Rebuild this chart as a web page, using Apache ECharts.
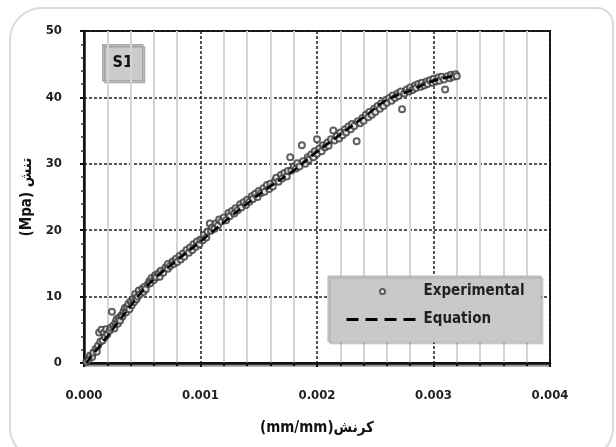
<!DOCTYPE html>
<html>
<head>
<meta charset="utf-8">
<script src="https://cdn.jsdelivr.net/npm/echarts@6/dist/echarts.min.js"></script>
<style>
  html, body { margin: 0; padding: 0; background: #fff; }
  #chart { width: 616px; height: 447px; }
</style>
</head>
<body>
<div id="chart"></div>
<script>
// equation curve (strain mm/mm, stress MPa)
const eqStrain = [0.00002, 0.0001, 0.0002, 0.0003, 0.0004, 0.0005, 0.0006, 0.0008, 0.0010, 0.0012, 0.0014, 0.0016, 0.0018, 0.0020, 0.0022, 0.0024, 0.0026, 0.0028, 0.0030, 0.0032];
const eqStress = [0, 1.8, 4.0, 6.3, 8.6, 10.8, 12.6, 15.5, 18.3, 21.2, 24.0, 26.6, 29.0, 31.8, 34.4, 37.0, 39.6, 41.0, 42.5, 43.3];

// experimental points
const expStrain = [
  0.00002, 0.00004, 0.00005, 0.00007, 0.00008, 0.00010, 0.00011, 0.00012, 0.00013, 0.00014,
  0.00015, 0.00016, 0.00017, 0.00018, 0.00019, 0.00020, 0.00022, 0.00023, 0.00024, 0.00025,
  0.00026, 0.00027, 0.00028, 0.00029, 0.00030, 0.00031, 0.00032, 0.00033, 0.00034, 0.00035,
  0.00036, 0.00037, 0.00038, 0.00039, 0.00040, 0.00041, 0.00042, 0.00043, 0.00044, 0.00045,
  0.00046, 0.00047, 0.00048, 0.00050, 0.00051, 0.00052, 0.00053, 0.00055, 0.00056, 0.00057,
  0.00058, 0.00060, 0.00061, 0.00062, 0.00064, 0.00065, 0.00066, 0.00068, 0.00070, 0.00072,
  0.00072, 0.00074, 0.00076, 0.00077, 0.00079, 0.00080, 0.00082, 0.00083, 0.00085, 0.00086,
  0.00088, 0.00090, 0.00091, 0.00093, 0.00094, 0.00096, 0.00097, 0.00099, 0.00100, 0.00102,
  0.00103, 0.00105, 0.00106, 0.00108, 0.00109, 0.00110, 0.00112, 0.00113, 0.00115, 0.00116,
  0.00118, 0.00120, 0.00122, 0.00124, 0.00125, 0.00127, 0.00129, 0.00130, 0.00132, 0.00134,
  0.00135, 0.00137, 0.00139, 0.00140, 0.00142, 0.00144, 0.00145, 0.00147, 0.00149, 0.00150,
  0.00152, 0.00154, 0.00155, 0.00157, 0.00159, 0.00160, 0.00162, 0.00164, 0.00165, 0.00167,
  0.00169, 0.00170, 0.00172, 0.00174, 0.00175, 0.00177, 0.00178, 0.00180, 0.00182, 0.00183,
  0.00185, 0.00187, 0.00188, 0.00190, 0.00192, 0.00193, 0.00195, 0.00197, 0.00198, 0.00200,
  0.00200, 0.00202, 0.00204, 0.00205, 0.00207, 0.00209, 0.00210, 0.00212, 0.00214, 0.00215,
  0.00217, 0.00219, 0.00220, 0.00222, 0.00224, 0.00225, 0.00227, 0.00229, 0.00230, 0.00232,
  0.00234, 0.00235, 0.00237, 0.00239, 0.00240, 0.00242, 0.00244, 0.00245, 0.00247, 0.00249,
  0.00250, 0.00252, 0.00254, 0.00255, 0.00257, 0.00259, 0.00260, 0.00262, 0.00264, 0.00265,
  0.00267, 0.00269, 0.00270, 0.00272, 0.00273, 0.00275, 0.00277, 0.00279, 0.00280, 0.00282,
  0.00284, 0.00285, 0.00287, 0.00289, 0.00290, 0.00292, 0.00294, 0.00295, 0.00297, 0.00299,
  0.00300, 0.00302, 0.00304, 0.00305, 0.00307, 0.00309, 0.00310, 0.00312, 0.00314, 0.00315,
  0.00317, 0.00319, 0.00320
];
const expStress = [
  0.2, 0.5, 1.1, 0.9, 1.6, 2.1, 1.7, 2.6, 4.6, 3.2,
  5.0, 3.4, 4.5, 3.9, 5.1, 4.3, 4.9, 5.3, 7.7, 5.6,
  5.2, 6.1, 6.6, 5.9, 6.8, 6.4, 7.2, 7.0, 7.8, 8.3,
  7.6, 8.4, 8.9, 8.1, 9.3, 8.7, 9.6, 9.2, 10.4, 9.6,
  10.0, 10.9, 10.3, 11.2, 10.7, 11.5, 11.1, 11.9, 12.3, 12.0,
  12.8, 12.5, 13.2, 12.9, 13.5, 13.0, 13.9, 13.6, 14.4, 14.2,
  14.9, 14.6, 15.3, 14.9, 15.7, 15.2, 16.1, 15.6, 16.5, 16.0,
  17.0, 16.6, 17.4, 17.0, 17.9, 17.5, 18.3, 17.9, 18.6, 18.5,
  19.3, 18.9, 19.8, 21.0, 19.9, 20.4, 20.2, 21.0, 20.7, 21.6,
  21.3, 21.9, 21.5, 22.6, 22.1, 22.9, 22.5, 23.3, 23.0, 23.9,
  23.4, 24.2, 23.8, 24.6, 24.3, 25.1, 24.7, 25.5, 25.0, 25.9,
  25.6, 26.3, 25.8, 26.8, 26.2, 27.0, 26.6, 27.4, 27.9, 27.3,
  28.3, 27.8, 28.6, 28.1, 28.9, 31.0, 29.0, 29.6, 29.3, 30.1,
  29.6, 32.8, 30.4, 30.0, 31.0, 30.6, 31.4, 31.0, 31.9, 33.7,
  31.5, 32.3, 31.9, 32.8, 32.5, 33.2, 32.7, 33.7, 35.0, 33.5,
  34.2, 33.8, 34.7, 34.3, 35.2, 34.7, 35.6, 35.2, 36.0, 35.7,
  33.4, 36.4, 36.1, 36.9, 36.5, 37.4, 37.0, 37.8, 37.4, 38.3,
  37.8, 38.7, 38.3, 39.1, 38.7, 39.6, 39.2, 39.9, 39.5, 40.3,
  39.9, 40.6, 40.2, 40.9, 38.2, 40.6, 41.2, 40.9, 41.5, 41.1,
  41.8, 41.4, 42.0, 41.6, 42.2, 41.8, 42.4, 42.0, 42.6, 42.2,
  42.8, 42.4, 43.0, 42.5, 43.1, 42.7, 41.2, 43.2, 42.9, 43.4,
  43.1, 43.5, 43.2
];

const xTicks = [0, 0.004, 0.001];   // min, max, interval
const yTicks = [0, 50, 10];
const xName = '(mm/mm)کرنش';
const yName = '(Mpa) تنش';
const seriesNames = ['Experimental', 'Equation'];
const tagText = 'S1';

const font = '"Liberation Sans Narrow", "DejaVu Sans Condensed", Arial, sans-serif';

const chart = echarts.init(document.getElementById('chart'), null, { renderer: 'canvas' });

chart.setOption({
  animation: false,
  backgroundColor: '#fff',
  grid: {
    left: 84, right: 66, top: 31, bottom: 84,
    show: true, borderColor: '#111', borderWidth: 2, backgroundColor: 'transparent'
  },
  legend: {
    left: 345, top: 284, z: 8,
    orient: 'vertical',
    itemWidth: 72, itemHeight: 5, itemGap: 13,
    padding: 0,
    textStyle: { fontFamily: font, fontWeight: 'bold', fontSize: 15, color: '#222' },
    data: [
      { name: seriesNames[0] },
      { name: seriesNames[1], itemStyle: { opacity: 0 }, lineStyle: { width: 3, type: [12, 7] } }
    ]
  },
  xAxis: {
    type: 'value',
    min: xTicks[0], max: xTicks[1], interval: xTicks[2],
    name: xName, nameLocation: 'middle', nameGap: 58,
    nameTextStyle: { fontFamily: font, fontWeight: 'bold', fontSize: 15, color: '#111' },
    axisLine: { lineStyle: { color: '#111', width: 2.5, shadowColor: '#999', shadowOffsetY: 2 } },
    axisTick: { show: true, inside: false, length: 4, lineStyle: { color: '#111', width: 2 } },
    minorTick: { show: true, splitNumber: 5, length: 3, lineStyle: { color: '#111', width: 2 } },
    axisLabel: {
      margin: 26, fontFamily: font, fontWeight: 'bold', fontSize: 13, color: '#222',
      formatter: v => v.toFixed(3)
    },
    splitLine: { show: true, lineStyle: { color: '#222', type: [3, 2], width: 1.5 } },
    minorSplitLine: { show: true, lineStyle: { color: '#d4d4d4', width: 2 } }
  },
  yAxis: {
    type: 'value',
    min: yTicks[0], max: yTicks[1], interval: yTicks[2],
    name: yName, nameLocation: 'middle', nameGap: 48,
    nameTextStyle: { fontFamily: font, fontWeight: 'bold', fontSize: 15, color: '#111' },
    axisLine: { show: true, lineStyle: { color: '#111', width: 2.5 } },
    axisTick: { show: true, inside: false, length: 4, lineStyle: { color: '#111', width: 2 } },
    minorTick: { show: true, splitNumber: 5, length: 3, lineStyle: { color: '#333', width: 1.5 } },
    axisLabel: { margin: 22, fontFamily: font, fontWeight: 'bold', fontSize: 13, color: '#222' },
    splitLine: { show: true, lineStyle: { color: '#222', type: [3, 2], width: 1.5 } }
  },
  graphic: [
    {
      type: 'rect', silent: true, z: -10,
      shape: { x: 10, y: 8, width: 603, height: 450, r: [32, 16, 30, 30] },
      style: { fill: 'none', stroke: '#dadada', lineWidth: 2 }
    },
    {
      type: 'rect', z: 6,
      shape: { x: 328, y: 276, width: 213, height: 66 },
      style: { fill: '#c9c9c9', stroke: '#b5b5b5', lineWidth: 1, shadowColor: 'rgba(0,0,0,0.15)', shadowOffsetX: 2, shadowOffsetY: 2 }
    },
    {
      type: 'group', left: 102, top: 44, z: 10,
      children: [
        {
          type: 'rect',
          shape: { x: 0, y: 0, width: 40, height: 36 },
          style: { fill: '#cbcbcb', stroke: '#a8a8a0', lineWidth: 1.5, shadowColor: 'rgba(0,0,0,0.2)', shadowOffsetX: 2, shadowOffsetY: 2 }
        },
        {
          type: 'text', x: 20, y: 18,
          style: { text: tagText, fill: '#111', font: 'bold 16px ' + font, align: 'center', verticalAlign: 'middle' }
        }
      ]
    }
  ],
  series: [
    {
      name: seriesNames[0],
      type: 'scatter',
      z: 3,
      symbol: 'emptyCircle',
      symbolSize: 6,
      itemStyle: { color: '#3a3a3a', borderColor: '#3a3a3a', borderWidth: 1.3 },
      data: expStrain.map((s, i) => [s, expStress[i]])
    },
    {
      name: seriesNames[1],
      type: 'line',
      z: 4,
      smooth: true,
      symbol: 'none',
      itemStyle: { color: '#000' },
      lineStyle: { color: '#000', width: 2.5, type: [9, 5] },
      data: eqStrain.map((s, i) => [s, eqStress[i]])
    }
  ]
});
</script>
</body>
</html>
